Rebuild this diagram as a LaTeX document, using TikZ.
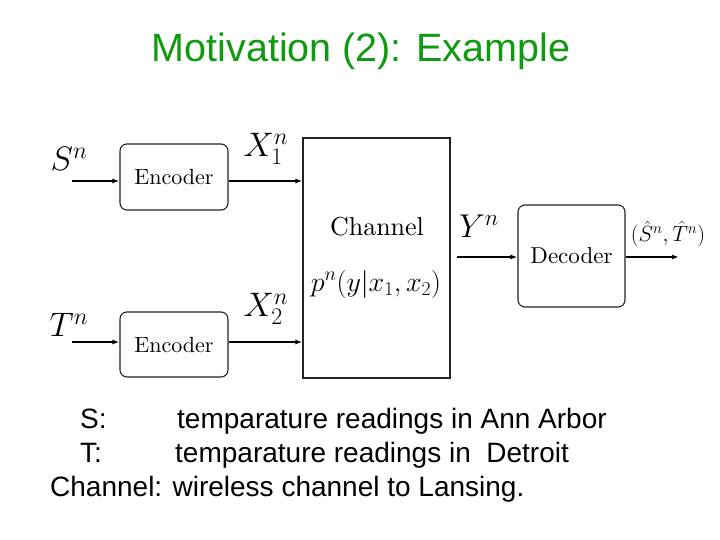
\RequirePackage{fix-cm}
\documentclass[tikz,border=0pt]{standalone}
\usepackage{fontspec}
\newfontfamily\arialfont{Liberation Sans}
\newfontfamily\cmtenfont{lmroman10-regular.otf}
\usepackage{xcolor}
\usetikzlibrary{positioning,arrows.meta}
\definecolor{titlegreen}{HTML}{0F9A0F}
\definecolor{boxline}{HTML}{222222}
\tikzset{
  % --- blocks ---
  encbox/.style={draw=boxline, line width=1.1pt, rounded corners=7pt,
                 minimum width=108pt, minimum height=66pt, inner sep=0pt,
                 font=\cmtenfont\fontsize{22}{24}\selectfont},
  decbox/.style={encbox, minimum width=107pt, minimum height=102pt,
                 font=\cmtenfont\fontsize{23}{26}\selectfont},
  chanbox/.style={draw=boxline, line width=1.1pt, minimum width=147pt,
                  minimum height=240pt, inner sep=0pt},
  % --- signals and labels ---
  sig/.style={line width=1.7pt, draw=black, -{Latex[length=7pt,width=5pt]}},
  mlabel/.style={font=\fontsize{34}{38}\selectfont, inner sep=0pt},
  note/.style={font=\arialfont\fontsize{28}{32}\selectfont, anchor=base west,
               inner sep=0pt},
}

\begin{document}
\begin{tikzpicture}[x=1pt,y=-1pt]
  \useasboundingbox[fill=white] (0,0) rectangle (720,540);

  % --- title ---
  \node[font=\arialfont\fontsize{39.5}{44}\selectfont, text=titlegreen,
        anchor=base, inner sep=0pt] (title) at (361,62) {Motivation (2): Example};

  % --- blocks ---
  \node[encbox] (enc1) at (174,177) {Encoder};
  \node[encbox, minimum height=65pt] (enc2) at (174,344.5) {Encoder};
  \node[chanbox] (chan) at (376.5,258) {};
  \node[decbox] (dec) at (571.5,256) {Decoder};

  % --- channel texts ---
  \node[font=\cmtenfont\fontsize{26}{30}\selectfont, anchor=base, inner sep=0pt]
        (chname) at (377,236) {Channel};
  \node[font=\fontsize{28}{30}\selectfont, anchor=base, inner sep=0pt]
        (law) at (376,291) {$p^n(y|x_1,x_2)$};

  % --- signal labels ---
  \node[mlabel] (sn) at (69,159) {$S^n$};
  \node[mlabel] (tn) at (69,325) {$T^n$};
  \node[mlabel] (x1) at (266,149) {$X_1^n$};
  \node[mlabel] (x2) at (266,309) {$X_2^n$};
  \node[mlabel, font=\fontsize{33}{36}\selectfont] (yn) at (479,226) {$Y^n$};
  \node[font=\fontsize{22}{24}\selectfont, inner sep=0pt] (est) at (668,234)
        {$(\hat{S}^n,\hat{T}^n)$};

  % --- free ends of the signals ---
  \coordinate (sin)  at (72,181);
  \coordinate (tin)  at (72,342);
  \coordinate (dout) at (679,257);

  % --- signal flow ---
  \draw[sig] (sin) -- (sin -| enc1.west);
  \draw[sig] (tin) -- (tin -| enc2.west);
  \draw[sig] (sin -| enc1.east) -- (sin -| chan.west);
  \draw[sig] (tin -| enc2.east) -- (tin -| chan.west);
  \draw[sig, shorten <=6pt] (dout -| chan.east) -- (dout -| dec.west);
  \draw[sig] (dout -| dec.east) -- (dout);

  % --- legend ---
  \node[note] (ls)  at (80,428)  {S:};
  \node[note] (lst) at (177,428) {temparature readings in Ann Arbor};
  \node[note] (lt)  at (80,462)  {T:};
  \node[note] (ltt) at (175,462) {temparature readings in\ \ Detroit};
  \node[note] (lc)  at (50,496)  {Channel: wireless channel to Lansing.};
\end{tikzpicture}
\end{document}
